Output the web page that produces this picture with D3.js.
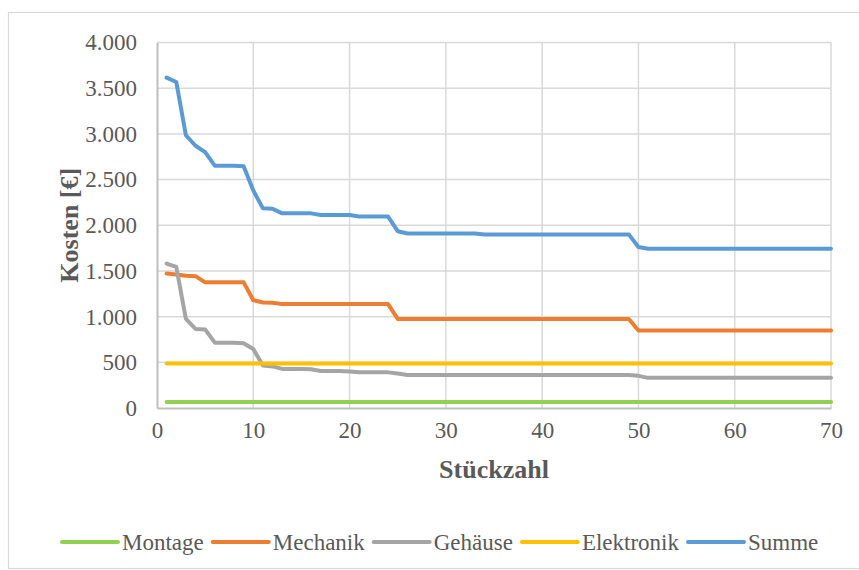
<!DOCTYPE html>
<html>
<head>
<meta charset="utf-8">
<script src="https://cdn.jsdelivr.net/npm/d3@7"></script>
<style>
  html, body { margin: 0; padding: 0; background: #fff; }
  svg { display: block; }
</style>
</head>
<body>
<svg id="chart" width="859" height="570"></svg>
<script>
// ---- Data ----
const stueckzahl = d3.range(1, 71); // x values 1..70
const seriesNames = ["Montage", "Mechanik", "Gehäuse", "Elektronik", "Summe"];
const seriesColors = ["#92D050", "#ED7D31", "#A5A5A5", "#FFC000", "#5B9BD5"];

const montage = [
  65,65,65,65,65,65,65,65,65,65, 65,65,65,65,65,65,65,65,65,65,
  65,65,65,65,65,65,65,65,65,65, 65,65,65,65,65,65,65,65,65,65,
  65,65,65,65,65,65,65,65,65,65, 65,65,65,65,65,65,65,65,65,65,
  65,65,65,65,65,65,65,65,65,65
];
const mechanik = [
  1472,1462,1447,1443,1375,1375,1375,1375,1375,1180,
  1155,1152,1137,1137,1137,1137,1137,1137,1137,1137,
  1137,1137,1137,1137,975,975,975,975,975,975,
  975,975,975,975,975,975,975,975,975,975,
  975,975,975,975,975,975,975,975,975,848,
  848,848,848,848,848,848,848,848,848,848,
  848,848,848,848,848,848,848,848,848,848
];
const gehaeuse = [
  1580,1545,975,865,860,715,715,713,708,645,
  465,455,428,428,428,425,405,405,405,400,
  392,392,392,390,378,362,362,362,362,362,
  362,362,362,362,362,362,362,362,362,362,
  362,362,362,362,362,362,362,362,362,352,
  330,330,330,330,330,330,330,330,330,330,
  330,330,330,330,330,330,330,330,330,330
];
const elektronik = [
  488,488,488,488,488,488,488,488,488,488, 488,488,488,488,488,488,488,488,488,488,
  488,488,488,488,488,488,488,488,488,488, 488,488,488,488,488,488,488,488,488,488,
  488,488,488,488,488,488,488,488,488,488, 488,488,488,488,488,488,488,488,488,488,
  488,488,488,488,488,488,488,488,488,488
];
const summe = [
  3615,3568,2985,2870,2800,2652,2652,2650,2645,2380,
  2185,2180,2130,2130,2130,2130,2112,2112,2112,2112,
  2095,2095,2095,2095,1935,1910,1910,1910,1910,1910,
  1910,1910,1910,1900,1900,1900,1900,1900,1900,1900,
  1900,1900,1900,1900,1900,1900,1900,1900,1900,1762,
  1742,1742,1742,1742,1742,1742,1742,1742,1742,1742,
  1742,1742,1742,1742,1742,1742,1742,1742,1742,1742
];
const xTicks = [0, 10, 20, 30, 40, 50, 60, 70];
const yTicks = [0, 500, 1000, 1500, 2000, 2500, 3000, 3500, 4000];
const xTitle = "Stückzahl";
const yTitle = "Kosten [€]";

const allSeries = [montage, mechanik, gehaeuse, elektronik, summe];

// ---- Layout ----
const svg = d3.select("#chart");
const plot = { left: 157, right: 831, top: 42.5, bottom: 408 };
const textColor = "#595959";
const font = "'Liberation Serif', 'Times New Roman', serif";

// outer frame
svg.append("rect")
  .attr("x", 8.5).attr("y", 12.5)
  .attr("width", 870).attr("height", 556)
  .attr("fill", "#fff")
  .attr("stroke", "#d9d9d9").attr("stroke-width", 1.2);

const x = d3.scaleLinear().domain([0, 70]).range([plot.left, plot.right]);
const y = d3.scaleLinear().domain([0, 4000]).range([plot.bottom, plot.top]);

const de = d3.formatLocale({ decimal: ",", thousands: ".", grouping: [3], currency: ["", " €"] });
const fmt = de.format(",.0f");

// gridlines
const grid = svg.append("g");
grid.selectAll(".hg").data(yTicks.filter(d => d > 0)).enter().append("line")
  .attr("x1", plot.left).attr("x2", plot.right)
  .attr("y1", d => y(d)).attr("y2", d => y(d))
  .attr("stroke", "#d9d9d9").attr("stroke-width", 1.5);
grid.selectAll(".vg").data(xTicks.filter(d => d > 0)).enter().append("line")
  .attr("x1", d => x(d)).attr("x2", d => x(d))
  .attr("y1", plot.top).attr("y2", plot.bottom)
  .attr("stroke", "#d9d9d9").attr("stroke-width", 1.5);

// axes
const yAxis = d3.axisLeft(y).tickValues(yTicks).tickFormat(fmt).tickSize(0).tickPadding(20);
const xAxis = d3.axisBottom(x).tickValues(xTicks).tickFormat(d3.format("d")).tickSize(0).tickPadding(14);

const gy = svg.append("g").attr("transform", `translate(${plot.left},0)`).call(yAxis);
const gx = svg.append("g").attr("transform", `translate(0,${plot.bottom})`).call(xAxis);
[gx, gy].forEach(g => {
  g.select(".domain").attr("stroke", "#bfbfbf").attr("stroke-width", 2);
  g.selectAll("text")
    .attr("fill", textColor)
    .style("font-family", font)
    .style("font-size", "23px");
});

// lines
const line = d3.line()
  .x((d, i) => x(stueckzahl[i]))
  .y(d => y(d));

svg.append("g").selectAll("path").data(allSeries).enter().append("path")
  .attr("d", d => line(d))
  .attr("fill", "none")
  .attr("stroke", (d, i) => seriesColors[i])
  .attr("stroke-width", 4)
  .attr("stroke-linejoin", "round")
  .attr("stroke-linecap", "round");

// axis titles
svg.append("text")
  .attr("x", (plot.left + plot.right) / 2)
  .attr("y", 478)
  .attr("text-anchor", "middle")
  .attr("fill", textColor)
  .style("font-family", font)
  .style("font-weight", "bold")
  .style("font-size", "26px")
  .text(xTitle);

svg.append("text")
  .attr("transform", `translate(78,${(plot.top + plot.bottom) / 2}) rotate(-90)`)
  .attr("text-anchor", "middle")
  .attr("fill", textColor)
  .style("font-family", font)
  .style("font-weight", "bold")
  .style("font-size", "26px")
  .text(yTitle);

// legend
const legend = svg.append("g");
let lx = 62;
const ly = 542;
seriesNames.forEach((name, i) => {
  legend.append("line")
    .attr("x1", lx).attr("x2", lx + 56)
    .attr("y1", ly).attr("y2", ly)
    .attr("stroke", seriesColors[i]).attr("stroke-width", 4)
    .attr("stroke-linecap", "round");
  const t = legend.append("text")
    .attr("x", lx + 60).attr("y", ly + 8)
    .attr("fill", textColor)
    .style("font-family", font)
    .style("font-size", "23px")
    .text(name);
  lx += 60 + t.node().getComputedTextLength() + 9;
});
</script>
</body>
</html>
